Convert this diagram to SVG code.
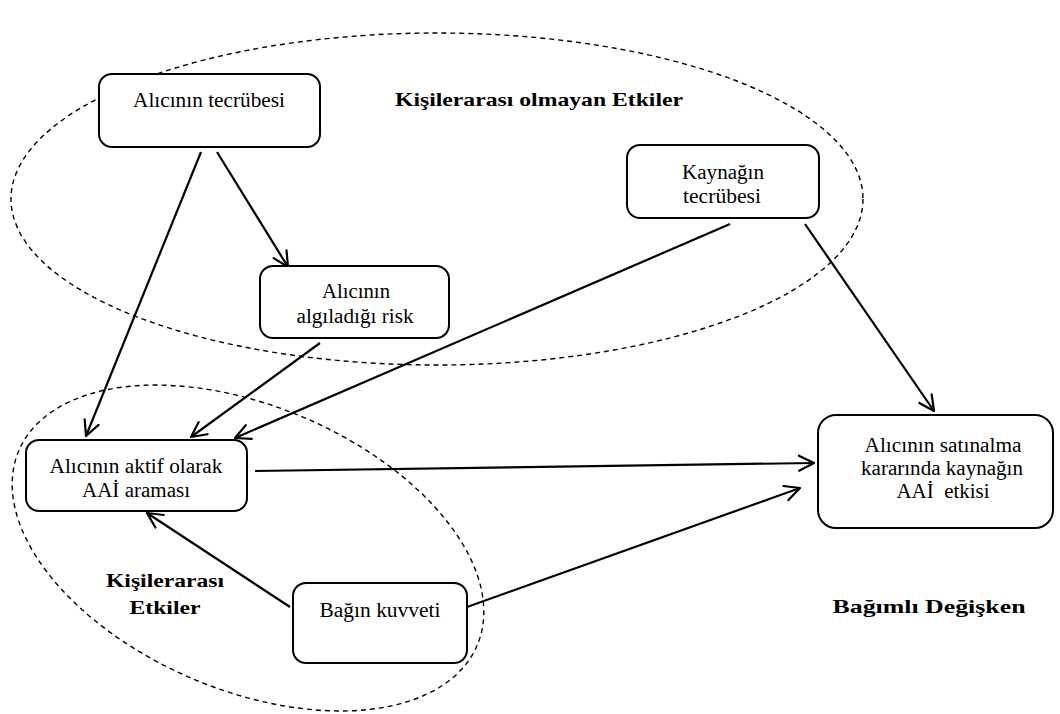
<svg xmlns="http://www.w3.org/2000/svg" width="1060" height="714" viewBox="0 0 1060 714">
  <defs>
    <marker id="arrow" markerUnits="userSpaceOnUse" markerWidth="22" markerHeight="22" viewBox="0 0 22 22" refX="19" refY="11" orient="auto">
      <path d="M4,3.5 L19,11 L4,18.5" fill="none" stroke="#000" stroke-width="2.2" stroke-linecap="round" stroke-linejoin="round"/>
    </marker>
  </defs>
  <style>
    .node rect { fill: #fff; stroke: #000; stroke-width: 2; }
    .node text { font-size: 20px; fill: #000; text-anchor: middle; }
    .group { fill: none; stroke: #000; stroke-width: 1.4; stroke-dasharray: 5 4; }
    .label { font-size: 19px; font-weight: bold; fill: #000; text-anchor: middle; }
    .edge { fill: none; stroke: #000; stroke-width: 2.2; marker-end: url(#arrow); }
  </style>
  <rect width="1060" height="714" fill="#fff"/>

  <!-- dashed groupings -->
  <g id="groups">
    <ellipse class="group" cx="437" cy="199" rx="426" ry="166"/>
    <ellipse class="group" cx="248" cy="548" rx="249" ry="142" transform="rotate(23 248 548)"/>
  </g>

  <!-- group captions -->
  <g font-family="'Liberation Serif', 'DejaVu Serif', serif">
    <text class="label" x="539" y="106" textLength="288" lengthAdjust="spacingAndGlyphs">Kişilerarası olmayan Etkiler</text>
    <text class="label" x="165" y="587" textLength="118" lengthAdjust="spacingAndGlyphs">Kişilerarası</text>
    <text class="label" x="165" y="614" textLength="71" lengthAdjust="spacingAndGlyphs">Etkiler</text>
    <text class="label" x="929" y="613" textLength="193" lengthAdjust="spacingAndGlyphs">Bağımlı Değişken</text>
  </g>

  <!-- connectors -->
  <g id="edges">
    <line class="edge" x1="217" y1="152" x2="288" y2="267"/>
    <line class="edge" x1="201" y1="152" x2="86" y2="436"/>
    <line class="edge" x1="320" y1="343" x2="191" y2="437"/>
    <line class="edge" x1="730" y1="224" x2="235" y2="438"/>
    <line class="edge" x1="805" y1="224" x2="934" y2="411"/>
    <line class="edge" x1="255" y1="471" x2="814" y2="463"/>
    <line class="edge" x1="467" y1="607" x2="800" y2="488"/>
    <line class="edge" x1="290" y1="607" x2="147" y2="513"/>
  </g>

  <!-- nodes -->
  <g font-family="'Liberation Serif', 'DejaVu Serif', serif">
    <g id="alicinin-tecrubesi" class="node">
      <rect x="99" y="74" width="221" height="73" rx="13"/>
      <text x="209" y="107" textLength="152" lengthAdjust="spacingAndGlyphs">Alıcının tecrübesi</text>
    </g>
    <g id="algilanan-risk" class="node">
      <rect x="260" y="266" width="189" height="72" rx="13"/>
      <text x="356" y="298" textLength="68" lengthAdjust="spacingAndGlyphs">Alıcının</text>
      <text x="355" y="323" textLength="117" lengthAdjust="spacingAndGlyphs">algıladığı risk</text>
    </g>
    <g id="kaynagin-tecrubesi" class="node">
      <rect x="627" y="145" width="192" height="73" rx="13"/>
      <text x="723" y="179" textLength="82" lengthAdjust="spacingAndGlyphs">Kaynağın</text>
      <text x="722" y="203" textLength="78" lengthAdjust="spacingAndGlyphs">tecrübesi</text>
    </g>
    <g id="aktif-arama" class="node">
      <rect x="26" y="440" width="221" height="71" rx="13"/>
      <text x="136" y="473" textLength="173" lengthAdjust="spacingAndGlyphs">Alıcının aktif olarak</text>
      <text x="136" y="497" textLength="108" lengthAdjust="spacingAndGlyphs">AAİ araması</text>
    </g>
    <g id="aai-etkisi" class="node">
      <rect x="818" y="415" width="235" height="113" rx="18"/>
      <text x="943" y="452" textLength="157" lengthAdjust="spacingAndGlyphs">Alıcının satınalma</text>
      <text x="942" y="475" textLength="162" lengthAdjust="spacingAndGlyphs">kararında kaynağın</text>
      <text x="943" y="498" textLength="93" lengthAdjust="spacingAndGlyphs" xml:space="preserve">AAİ  etkisi</text>
    </g>
    <g id="bagin-kuvveti" class="node">
      <rect x="293" y="583" width="174" height="80" rx="13"/>
      <text x="380" y="617" textLength="121" lengthAdjust="spacingAndGlyphs">Bağın kuvveti</text>
    </g>
  </g>
</svg>
